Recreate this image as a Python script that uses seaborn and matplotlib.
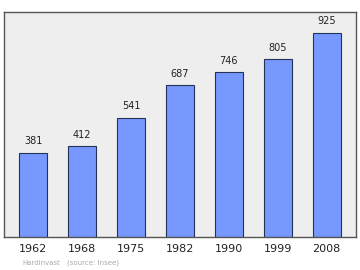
import matplotlib
matplotlib.use("Agg")
import matplotlib.pyplot as plt
import seaborn as sns
import pandas as pd

years = ["1962", "1968", "1975", "1982", "1990", "1999", "2008"]
population = [381, 412, 541, 687, 746, 805, 925]

df = pd.DataFrame({"year": years, "pop": population})

sns.set_style("white")
plt.rcParams['font.family'] = ['DejaVu Sans']

fig = plt.figure(figsize=(3.6, 2.7), dpi=100)
ax = fig.add_axes([4/360, 1 - 237/270, 352/360, 225/270])
ax.set_facecolor("#eeeeee")

sns.barplot(data=df, x="year", y="pop", ax=ax, color="#7799ff", saturation=1,
            width=0.57, edgecolor="#223355", linewidth=0.8)

for i, v in enumerate(population):
    ax.text(i, v + 30, str(v), ha="center", va="bottom", fontsize=7, color="#222222")

ax.set_xlim(-0.6, 6.6)
ax.set_ylim(0, 1020)
ax.set_yticks([])
ax.set_xlabel("")
ax.set_ylabel("")
ax.tick_params(axis="x", length=0, labelsize=8, pad=5, colors="#222222")
for s in ax.spines.values():
    s.set_color("#555555")
    s.set_linewidth(1.0)

fig.text(22/360, 1 - 263/270, "Hardinvast", fontsize=5,
         color="#aaaaaa", va="center", ha="left")
fig.text(67/360, 1 - 263/270, "(source: Insee)", fontsize=5,
         color="#aaaaaa", va="center", ha="left")

fig.savefig("out.png", dpi=100, facecolor="white")
